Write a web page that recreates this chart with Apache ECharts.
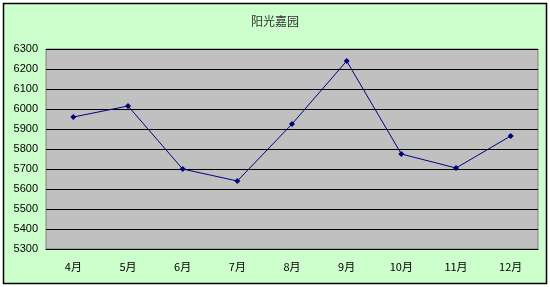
<!DOCTYPE html>
<html><head><meta charset="utf-8">
<script src="https://cdn.jsdelivr.net/npm/echarts@6/dist/echarts.min.js"></script>
<style>html,body{margin:0;padding:0;background:#fff}#c{width:550px;height:287px}</style>
</head><body><div id="c"></div>
<script>
var title = '阳光嘉园';
var categories = ['4月','5月','6月','7月','8月','9月','10月','11月','12月'];
var values = [5960, 6015, 5700, 5640, 5925, 6240, 5775, 5705, 5865];
var yMin = 5300, yMax = 6300, yStep = 100;

var chart = echarts.init(document.getElementById('c'), null, {renderer:'canvas'});
chart.setOption({
  backgroundColor: '#fff',
  animation: false,
  graphic: [{
    type: 'rect', z: -10, silent: true,
    shape: {x: 3.5, y: 3.5, width: 543, height: 280},
    style: {fill: '#CCFFCC', stroke: '#000', lineWidth: 1.5}
  }],
  title: {
    text: title, left: 'center', top: 10,
    textStyle: {fontSize: 12, fontWeight: 'normal', color: '#333', fontFamily: 'Noto Sans CJK SC'}
  },
  grid: {
    left: 46, right: 12, top: 49, bottom: 38,
    show: true, backgroundColor: '#C0C0C0', borderColor: '#808080', borderWidth: 1
  },
  xAxis: {
    type: 'category', data: categories, boundaryGap: true,
    axisLine: {lineStyle: {color: '#000', width: 1}},
    axisTick: {inside: true, length: 3, lineStyle: {color: '#000'}},
    axisLabel: {color: '#000', fontSize: 11, margin: 12, fontFamily: 'Noto Sans CJK SC'}
  },
  yAxis: {
    type: 'value', min: yMin, max: yMax, interval: yStep,
    axisLine: {show: false}, axisTick: {show: false},
    axisLabel: {color: '#000', fontSize: 11, margin: 8, fontFamily: 'Arial, Liberation Sans',
      formatter: function (v) { return String(v); }},
    splitLine: {lineStyle: {color: '#000', width: 1}}
  },
  series: [{
    type: 'line', data: values,
    symbol: 'diamond', symbolSize: 6,
    lineStyle: {color: '#000080', width: 1},
    itemStyle: {color: '#000080'}
  }]
});
</script></body></html>
